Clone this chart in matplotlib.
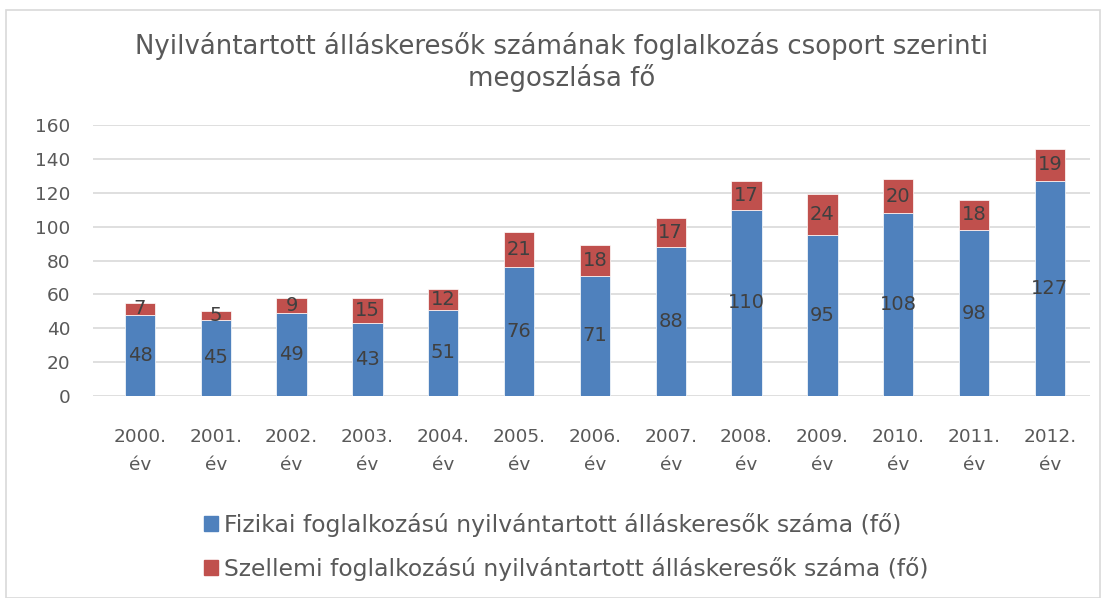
import matplotlib
matplotlib.use("Agg")
import matplotlib.pyplot as plt
from matplotlib.patches import Rectangle, Patch

years = ["2000.\név", "2001.\név", "2002.\név", "2003.\név", "2004.\név", "2005.\név",
         "2006.\név", "2007.\név", "2008.\név", "2009.\név", "2010.\név", "2011.\név",
         "2012.\név"]
fizikai = [48, 45, 49, 43, 51, 76, 71, 88, 110, 95, 108, 98, 127]
szellemi = [7, 5, 9, 15, 12, 21, 18, 17, 17, 24, 20, 18, 19]
yticks = [0, 20, 40, 60, 80, 100, 120, 140, 160]

BLUE = "#4F81BD"
RED = "#C0504D"
TEXT = "#595959"

plt.rcParams["font.family"] = "DejaVu Sans"

fig = plt.figure(figsize=(11.06, 5.98), dpi=100)
fig.patches.append(Rectangle((6 / 1106, 0), 1094 / 1106, 1 - 10 / 598,
                             transform=fig.transFigure, fill=False,
                             edgecolor="#D9D9D9", linewidth=1.2))

ax = fig.add_axes([93 / 1106, 1 - 396 / 598, 997 / 1106, 271 / 598])
x = range(len(years))
ax.bar(x, fizikai, width=0.4, color=BLUE, edgecolor="white", linewidth=0.5, zorder=3)
ax.bar(x, szellemi, width=0.4, bottom=fizikai, color=RED, edgecolor="white",
       linewidth=0.5, zorder=3)

for i, (f, s) in enumerate(zip(fizikai, szellemi)):
    ax.text(i, f / 2, str(f), ha="center", va="center", fontsize=14,
            color="#404040", zorder=4)
    ax.text(i, f + s / 2, str(s), ha="center", va="center", fontsize=14,
            color="#404040", zorder=4)

ax.set_ylim(0, 160)
ax.set_xlim(-0.62, 12.53)
ax.set_yticks(yticks)
ax.set_xticks(list(x))
ax.set_xticklabels(years, fontsize=13.3, color=TEXT, linespacing=1.7)
ax.tick_params(axis="y", labelsize=13.3, labelcolor=TEXT, length=0, pad=16.5)
ax.tick_params(axis="x", length=0, pad=23)
ax.grid(axis="y", color="#D9D9D9", linewidth=1.2, zorder=0)
for sp in ax.spines.values():
    sp.set_visible(False)

fig.text(562 / 1106, 1 - 62 / 598,
         "Nyilvántartott álláskeresők számának foglalkozás csoport szerinti\nmegoszlása fő",
         ha="center", va="center", fontsize=18.7, color=TEXT, linespacing=1.15)

handles = [Patch(color=BLUE), Patch(color=RED)]
labels = ["Fizikai foglalkozású nyilvántartott álláskeresők száma (fő)",
          "Szellemi foglalkozású nyilvántartott álláskeresők száma (fő)"]
fig.legend(handles, labels, loc="center left", bbox_to_anchor=(183 / 1106, 1 - 547 / 598),
           frameon=False, fontsize=16.9, labelcolor=TEXT, handlelength=0.6,
           handleheight=0.6, handletextpad=0.25, labelspacing=0.85)

fig.savefig("out.png", dpi=100)
